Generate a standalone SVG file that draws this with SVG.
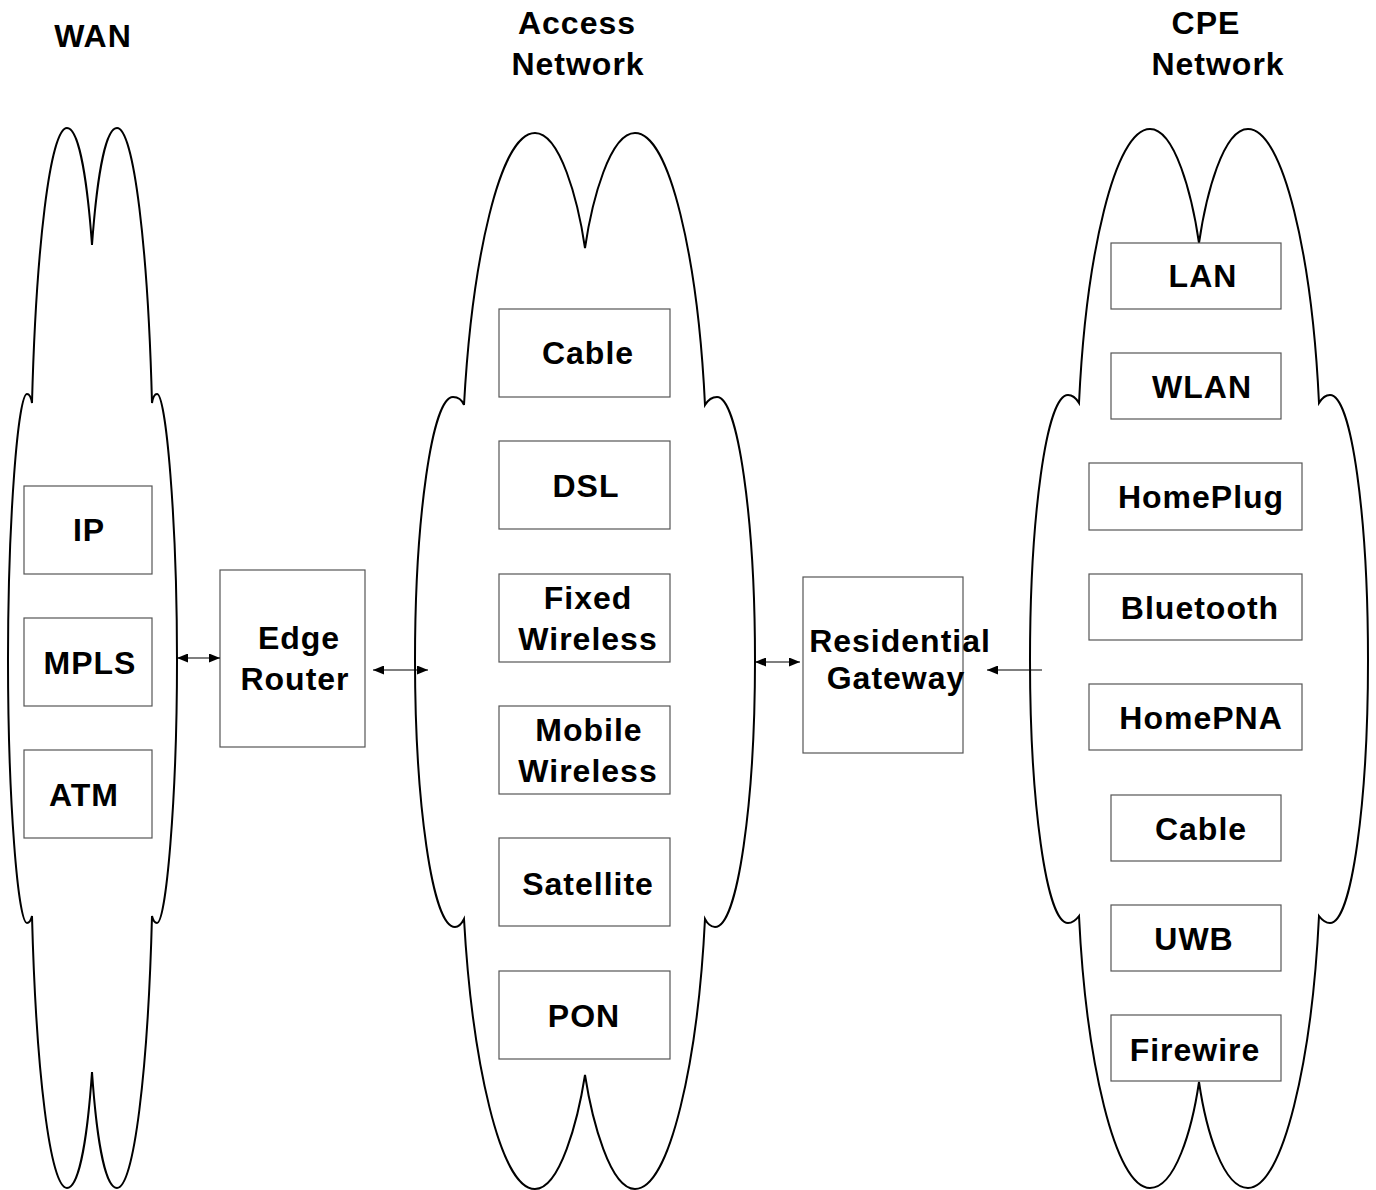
<svg xmlns="http://www.w3.org/2000/svg" width="1376" height="1190" viewBox="0 0 1376 1190">
  <style>
    .cloud { fill: #ffffff; stroke: #000000; stroke-width: 2; }
    .box { fill: #ffffff; stroke: #555555; stroke-width: 1.2; }
    .lbl { font-family: "Liberation Sans", Arial, sans-serif; font-weight: bold; font-size: 32px; letter-spacing: 1px; text-anchor: middle; fill: #000000; }
    .link { stroke: #000000; stroke-width: 1.2; fill: none; }
  </style>
  <defs>
    <marker id="head" viewBox="0 0 11 9" refX="11" refY="4.5" markerWidth="11" markerHeight="9" markerUnits="userSpaceOnUse" orient="auto-start-reverse">
      <path d="M0,0 L11,4.5 L0,9 Z" fill="#000000"/>
    </marker>
  </defs>

  <rect width="1376" height="1190" fill="#ffffff"/>

  <!-- column headings -->
  <g id="headings">
    <text class="lbl" x="93" y="47">WAN</text>
    <text class="lbl" x="577" y="34">Access</text>
    <text class="lbl" x="578" y="75">Network</text>
    <text class="lbl" x="1206" y="34">CPE</text>
    <text class="lbl" x="1218" y="75">Network</text>
  </g>

  <!-- WAN cloud -->
  <g id="wan">
    <path class="cloud" d="M32,403 C36,250 50,128 67,128 C80,128 88,190 92,245 C96,190 104,128 117,128 C134,128 148,250 152,403 C153,397 155,394 157,394 C166,394 177,520 177,660 C177,800 166,923 157,923 C155,923 153,920 152,916 C148,1070 134,1188 117,1188 C104,1188 96,1130 92,1072 C88,1130 80,1188 67,1188 C50,1188 36,1070 32,916 C31,920 29,923 27,923 C18,923 8,800 8,660 C8,520 18,394 27,394 C29,394 31,397 32,403 Z"/>
    <g id="wan-ip"><rect class="box" x="24" y="486" width="128" height="88"/><text class="lbl" x="89" y="541">IP</text></g>
    <g id="wan-mpls"><rect class="box" x="24" y="618" width="128" height="88"/><text class="lbl" x="90" y="674">MPLS</text></g>
    <g id="wan-atm"><rect class="box" x="24" y="750" width="128" height="88"/><text class="lbl" x="84" y="806">ATM</text></g>
  </g>

  <!-- Edge router -->
  <g id="edge-router">
    <rect class="box" x="220" y="570" width="145" height="177"/>
    <text class="lbl" x="299" y="649">Edge</text>
    <text class="lbl" x="295" y="690">Router</text>
  </g>

  <!-- Access network cloud -->
  <g id="access">
    <path class="cloud" d="M464,405 C472,260 500,133 535,133 C560,133 578,200 585,248 C592,200 610,133 635,133 C670,133 698,260 705,405 C708,400 712,397 717,397 C738,397 755,520 755,660 C755,800 738,927 715,927 C711,927 707,923 705,919 C698,1060 670,1189 635,1189 C610,1189 592,1120 585,1075 C578,1120 560,1189 535,1189 C500,1189 472,1060 464,919 C462,923 459,927 455,927 C432,927 415,800 415,660 C415,520 432,397 453,397 C458,397 462,400 464,405 Z"/>
    <g id="acc-cable"><rect class="box" x="499" y="309" width="171" height="88"/><text class="lbl" x="588" y="364">Cable</text></g>
    <g id="acc-dsl"><rect class="box" x="499" y="441" width="171" height="88"/><text class="lbl" x="586" y="497">DSL</text></g>
    <g id="acc-fixed"><rect class="box" x="499" y="574" width="171" height="88"/><text class="lbl" x="588" y="609">Fixed</text><text class="lbl" x="588" y="650">Wireless</text></g>
    <g id="acc-mobile"><rect class="box" x="499" y="706" width="171" height="88"/><text class="lbl" x="589" y="741">Mobile</text><text class="lbl" x="588" y="782">Wireless</text></g>
    <g id="acc-sat"><rect class="box" x="499" y="838" width="171" height="88"/><text class="lbl" x="588" y="895">Satellite</text></g>
    <g id="acc-pon"><rect class="box" x="499" y="971" width="171" height="88"/><text class="lbl" x="584" y="1027">PON</text></g>
  </g>

  <!-- Residential gateway -->
  <g id="res-gateway">
    <rect class="box" x="803" y="577" width="160" height="176"/>
    <text class="lbl" x="900" y="652">Residential</text>
    <text class="lbl" x="896" y="689">Gateway</text>
  </g>

  <!-- CPE network cloud -->
  <g id="cpe">
    <path class="cloud" d="M1079,403 C1086,255 1115,129 1150,129 C1175,129 1192,195 1199,243 C1206,195 1223,129 1248,129 C1283,129 1312,255 1319,403 C1322,398 1326,395 1330,395 C1352,395 1368,520 1368,660 C1368,800 1352,923 1330,923 C1326,923 1322,920 1319,916 C1312,1060 1283,1188 1248,1188 C1223,1188 1206,1130 1199,1082 C1192,1130 1175,1188 1150,1188 C1115,1188 1086,1060 1079,916 C1076,920 1072,923 1068,923 C1046,923 1030,800 1030,660 C1030,520 1046,395 1068,395 C1072,395 1076,398 1079,403 Z"/>
    <g id="cpe-lan"><rect class="box" x="1111" y="243" width="170" height="66"/><text class="lbl" x="1203" y="287">LAN</text></g>
    <g id="cpe-wlan"><rect class="box" x="1111" y="353" width="170" height="66"/><text class="lbl" x="1202" y="398">WLAN</text></g>
    <g id="cpe-homeplug"><rect class="box" x="1089" y="463" width="213" height="67"/><text class="lbl" x="1201" y="508">HomePlug</text></g>
    <g id="cpe-bluetooth"><rect class="box" x="1089" y="574" width="213" height="66"/><text class="lbl" x="1200" y="619">Bluetooth</text></g>
    <g id="cpe-homepna"><rect class="box" x="1089" y="684" width="213" height="66"/><text class="lbl" x="1201" y="729">HomePNA</text></g>
    <g id="cpe-cable"><rect class="box" x="1111" y="795" width="170" height="66"/><text class="lbl" x="1201" y="840">Cable</text></g>
    <g id="cpe-uwb"><rect class="box" x="1111" y="905" width="170" height="66"/><text class="lbl" x="1194" y="950">UWB</text></g>
    <g id="cpe-firewire"><rect class="box" x="1111" y="1015" width="170" height="66"/><text class="lbl" x="1195" y="1061">Firewire</text></g>
  </g>

  <!-- connectors -->
  <g id="connectors">
    <line class="link" x1="177" y1="658" x2="220" y2="658" marker-start="url(#head)" marker-end="url(#head)"/>
    <line class="link" x1="373" y1="670" x2="428" y2="670" marker-start="url(#head)" marker-end="url(#head)"/>
    <line class="link" x1="755" y1="662" x2="800" y2="662" marker-start="url(#head)" marker-end="url(#head)"/>
    <line class="link" x1="1042" y1="670" x2="987" y2="670" marker-end="url(#head)"/>
  </g>
</svg>
